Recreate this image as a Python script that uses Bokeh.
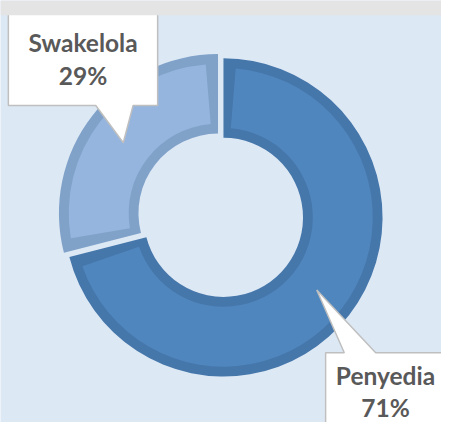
import numpy as np
from bokeh.plotting import figure
from bokeh.models import Range1d, BoxAnnotation
from bokeh.core.properties import value
from bokeh.embed import file_html
from bokeh.resources import INLINE

# ---- data ----
categories = ["Penyedia", "Swakelola"]
shares = [71, 29]

# ---- style ----
fill_colors = ["#4f86be", "#95b5de"]
edge_colors = ["#4677ab", "#80a2c9"]
explode = [0, 7]
bg = "#dde8f5"
text_color = "#595959"

REF_W, REF_H = 449, 430  # reference pixel frame; y_data = REF_H - y_px


def fy(y):
    return REF_H - y


p = figure(width=441, height=422, x_range=Range1d(0, REF_W), y_range=Range1d(0, REF_H),
           output_backend="svg", toolbar_location=None, min_border=0)
p.axis.visible = False
p.grid.visible = False
p.outline_line_color = None
p.background_fill_color = bg
p.border_fill_color = bg

# top grey band
p.add_layout(BoxAnnotation(bottom=fy(15), top=fy(0), fill_color="#e4e4e4", fill_alpha=1, line_color=None))

# ---- donut ----
cx, cy = 227, fy(221)
r_out, r_in, band = 162, 81, 10

vals = np.array(shares, dtype=float)
frac = vals / vals.sum()
cum = np.cumsum(frac)
cum_before = cum - frac
start = np.pi / 2 - 2 * np.pi * cum
end = np.pi / 2 - 2 * np.pi * cum_before
mid = (start + end) / 2
xs = cx + np.array(explode) * np.cos(mid)
ys = cy + np.array(explode) * np.sin(mid)

inset = band / ((r_out + r_in) / 2)

p.annular_wedge(x=xs, y=ys, inner_radius=r_in, outer_radius=r_out,
                start_angle=start, end_angle=end,
                fill_color=edge_colors, line_color=None)
p.annular_wedge(x=xs, y=ys, inner_radius=r_in + band, outer_radius=r_out - band,
                start_angle=start + inset, end_angle=end - inset,
                fill_color=fill_colors, line_color=None)

# ---- callouts ----
sw_x = [8, 160, 160, 135, 125, 97, 8]
sw_y = [fy(v) for v in [7, 7, 107, 107, 145, 107, 107]]
py_x = [331, 350, 322, 382, 455, 455, 331]
py_y = [fy(v) for v in [359, 359, 295, 359, 359, 445, 445]]
for bx, by in [(py_x, py_y), (sw_x, sw_y)]:
    p.patch(bx, by, fill_color="white", line_color="#bfbfbf", line_width=1.5)

label_x = [392, 84]
name_y = [fy(382), fy(43)]
pct_y = [fy(415), fy(76)]
pct_text = [f"{v}%" for v in shares]

p.text(x=label_x, y=name_y, text=categories, text_font=value("Lato"), text_font_style="bold",
       text_font_size="24.5px", text_color=text_color, text_align="center", text_baseline="middle")
p.text(x=label_x, y=pct_y, text=pct_text, text_font=value("Lato"), text_font_style="bold",
       text_font_size="24.5px", text_color=text_color, text_align="center", text_baseline="middle")

open("out.html", "w").write(file_html(p, INLINE))
